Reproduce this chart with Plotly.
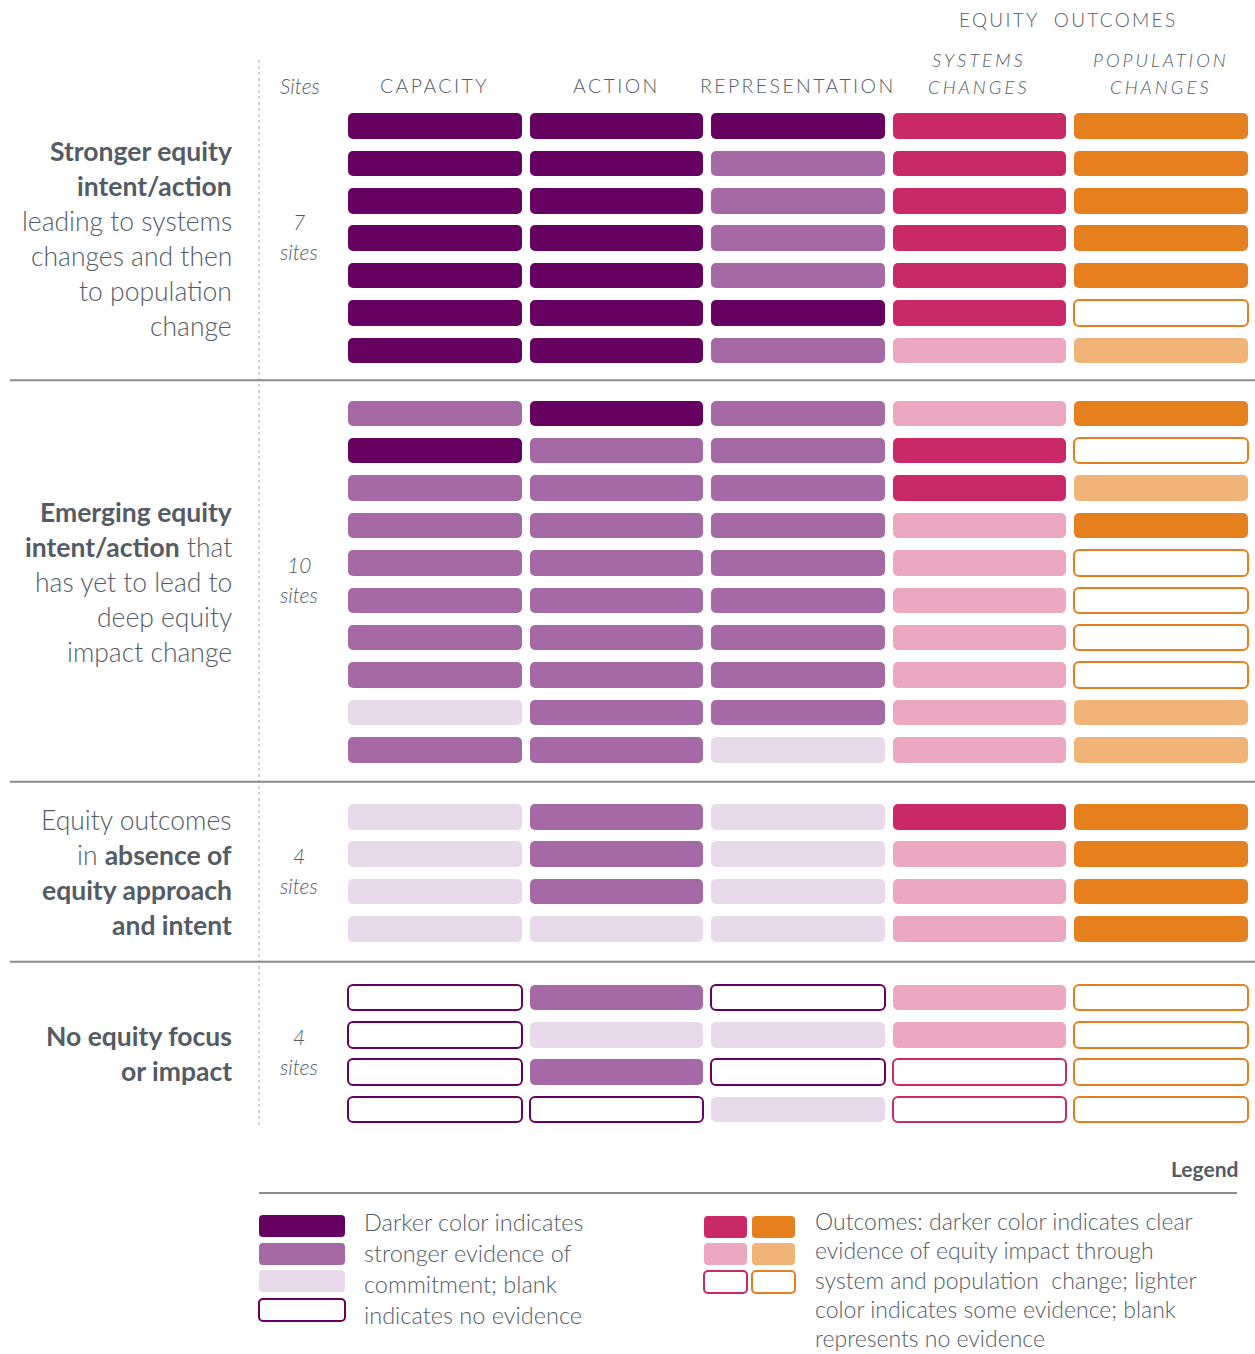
import plotly.graph_objects as go

# ---------------- data ----------------
columns = ["CAPACITY", "ACTION", "REPRESENTATION", "SYSTEMS<br>CHANGES", "POPULATION<br>CHANGES"]
group_labels = [
    ["<b>Stronger equity</b>", "<b>intent/action</b>", "leading to systems", "changes and then", "to population", "change"],
    ["<b>Emerging equity</b>", "<b>intent/action</b> that", "has yet to lead to", "deep equity", "impact change"],
    ["Equity outcomes", "in <b>absence of</b>", "<b>equity approach</b>", "<b>and intent</b>"],
    ["<b>No equity focus</b>", "<b>or impact</b>"],
]
site_counts = ["7", "10", "4", "4"]

# process levels: 3 dark, 2 medium, 1 light, 0 no evidence
# outcome levels: 2 dark, 1 light, 0 no evidence
group1 = [
    [3, 3, 3, 2, 2],
    [3, 3, 2, 2, 2],
    [3, 3, 2, 2, 2],
    [3, 3, 2, 2, 2],
    [3, 3, 2, 2, 2],
    [3, 3, 3, 2, 0],
    [3, 3, 2, 1, 1],
]
group2 = [
    [2, 3, 2, 1, 2],
    [3, 2, 2, 2, 0],
    [2, 2, 2, 2, 1],
    [2, 2, 2, 1, 2],
    [2, 2, 2, 1, 0],
    [2, 2, 2, 1, 0],
    [2, 2, 2, 1, 0],
    [2, 2, 2, 1, 0],
    [1, 2, 2, 1, 1],
    [2, 2, 1, 1, 1],
]
group3 = [
    [1, 2, 1, 2, 2],
    [1, 2, 1, 1, 2],
    [1, 2, 1, 1, 2],
    [1, 1, 1, 1, 2],
]
group4 = [
    [0, 2, 0, 1, 0],
    [0, 1, 1, 1, 0],
    [0, 2, 0, 0, 0],
    [0, 0, 1, 0, 0],
]
groups = [group1, group2, group3, group4]

legend_left = ["Darker color indicates", "stronger evidence of", "commitment; blank", "indicates no evidence"]
legend_right = ["Outcomes: darker color indicates clear", "evidence of equity impact through",
                "system and population  change; lighter", "color indicates some evidence; blank",
                "represents no evidence"]

# ---------------- styles ----------------
PURPLE = {3: "#660061", 2: "#a56aa5", 1: "#e8daea", 0: "#ffffff"}
PINK = {2: "#c92a67", 1: "#eca8c1", 0: "#ffffff"}
ORANGE = {2: "#e6801f", 1: "#f0b478", 0: "#ffffff"}
OUTLINE = ["#660061", "#660061", "#660061", "#c92a67", "#e6801f"]
PALETTES = [PURPLE, PURPLE, PURPLE, PINK, ORANGE]
TXT = "#545b65"
FONT = "Lato"

W, H = 1255, 1354
col_x0 = 347
col_pitch = 181.5
col_w = 175.5
row_start = 126
row_pitch = 37.4
group_gaps = [25.5, 29.5, 31]
bar_h = 27

# compute row centers
row_y = []
group_ranges = []
y = row_start
for g, rows in enumerate(groups):
    ys = []
    for i in range(len(rows)):
        ys.append(y)
        y += row_pitch
    row_y.append(ys)
    group_ranges.append((ys[0], ys[-1]))
    if g < len(group_gaps):
        y += group_gaps[g]

fig = go.Figure()

for j in range(len(columns)):
    yy, colors, lc, lw = [], [], [], []
    for g, rows in enumerate(groups):
        for i, r in enumerate(rows):
            lvl = r[j]
            yy.append(row_y[g][i])
            colors.append(PALETTES[j][lvl])
            lc.append(OUTLINE[j] if lvl == 0 else PALETTES[j][lvl])
            lw.append(2 if lvl == 0 else 0)
    fig.add_trace(go.Bar(
        orientation="h", y=yy, x=[col_w - 2] * len(yy), base=col_x0 + j * col_pitch + 1,
        width=bar_h - 1.5, marker=dict(color=colors, line=dict(color=lc, width=lw), cornerradius=5),
        hoverinfo="skip", showlegend=False))

# legend boxes
leg_left_y = [1226, 1254, 1281, 1310]
leg_left_lvls = [3, 2, 1, 0]
fig.add_trace(go.Bar(
    orientation="h", y=leg_left_y, x=[86] * 4, base=259, width=22,
    marker=dict(color=[PURPLE[l] for l in leg_left_lvls],
                line=dict(color=[OUTLINE[0] if l == 0 else PURPLE[l] for l in leg_left_lvls],
                          width=[2 if l == 0 else 0 for l in leg_left_lvls]),
                cornerradius=4),
    hoverinfo="skip", showlegend=False))
leg_right_y = [1227, 1254, 1282]
leg_right_lvls = [2, 1, 0]
for k, (pal, oc, x0) in enumerate([(PINK, OUTLINE[3], 704), (ORANGE, OUTLINE[4], 752)]):
    fig.add_trace(go.Bar(
        orientation="h", y=leg_right_y, x=[43] * 3, base=x0, width=22,
        marker=dict(color=[pal[l] for l in leg_right_lvls],
                    line=dict(color=[oc if l == 0 else pal[l] for l in leg_right_lvls],
                              width=[2 if l == 0 else 0 for l in leg_right_lvls]),
                    cornerradius=4),
        hoverinfo="skip", showlegend=False))

shapes = []
# dotted vertical line
shapes.append(dict(type="line", x0=259, x1=259, y0=60, y1=1125, xref="x", yref="y",
                   line=dict(color="#c4c4c4", width=1.5, dash="dot")))
# separators
for g in range(len(groups) - 1):
    ysep = (group_ranges[g][1] + group_ranges[g + 1][0]) / 2 - 1.5
    shapes.append(dict(type="line", x0=10, x1=1255, y0=ysep, y1=ysep, xref="x", yref="y",
                       line=dict(color="#8c8c8c", width=2)))
shapes.append(dict(type="line", x0=259, x1=1237, y0=1193, y1=1193, xref="x", yref="y",
                   line=dict(color="#8c8c8c", width=2)))

ann = []
def add(text, x, y, size=20, xanchor="center", italic=False, color=TXT, spacing=None):
    if spacing:
        text = '<span style="letter-spacing:%spx">%s</span>' % (spacing, text)
    ann.append(dict(text=text, x=x, y=y, xref="x", yref="y", showarrow=False,
                    xanchor=xanchor, yanchor="middle",
                    font=dict(family=FONT, size=size, color=color,
                              style="italic" if italic else "normal")))

# headers
add("EQUITY  OUTCOMES", 1068, 19, size=19, spacing=2.3)
add("Sites", 300, 85, size=21, italic=True)
for j, c in enumerate(columns):
    xc = col_x0 + j * col_pitch + col_w / 2
    if "<br>" in c:
        a, b = c.split("<br>")
        add(a, xc, 60, size=18.5, italic=True, spacing=3)
        add(b, xc, 87, size=18.5, italic=True, spacing=3)
    else:
        add(c, xc, 85, size=19.5, spacing=2.4)

# group labels
for g, lines in enumerate(group_labels):
    yc = (group_ranges[g][0] + group_ranges[g][1]) / 2
    n = len(lines)
    for k, line in enumerate(lines):
        yl = yc + (k - (n - 1) / 2) * 35
        add(line, 234, yl, size=26.5, xanchor="right")
    add(site_counts[g], 299, yc - 17, size=21, italic=True)
    add("sites", 299, yc + 13, size=21, italic=True)

# legend
ann.append(dict(text="<b>Legend</b>", x=1240, y=1168, xref="x", yref="y", showarrow=False,
                xanchor="right", yanchor="middle", font=dict(family=FONT, size=21, color=TXT)))
for k, t in enumerate(legend_left):
    add(t, 362, 1222 + k * 31, size=23.5, xanchor="left")
for k, t in enumerate(legend_right):
    add(t, 813, 1221 + k * 29.3, size=23, xanchor="left")

fig.update_layout(
    width=W, height=H, margin=dict(l=0, r=0, t=0, b=0),
    paper_bgcolor="white", plot_bgcolor="white",
    barmode="overlay", bargap=0,
    xaxis=dict(range=[0, W], visible=False, fixedrange=True),
    yaxis=dict(range=[H, 0], visible=False, fixedrange=True),
    shapes=shapes, annotations=ann,
    font=dict(family=FONT, color=TXT, weight=300),
)

fig.write_html("out.html", config={"displayModeBar": False},
               post_script="document.body.style.margin='0px';document.body.style.overflow='hidden';")
